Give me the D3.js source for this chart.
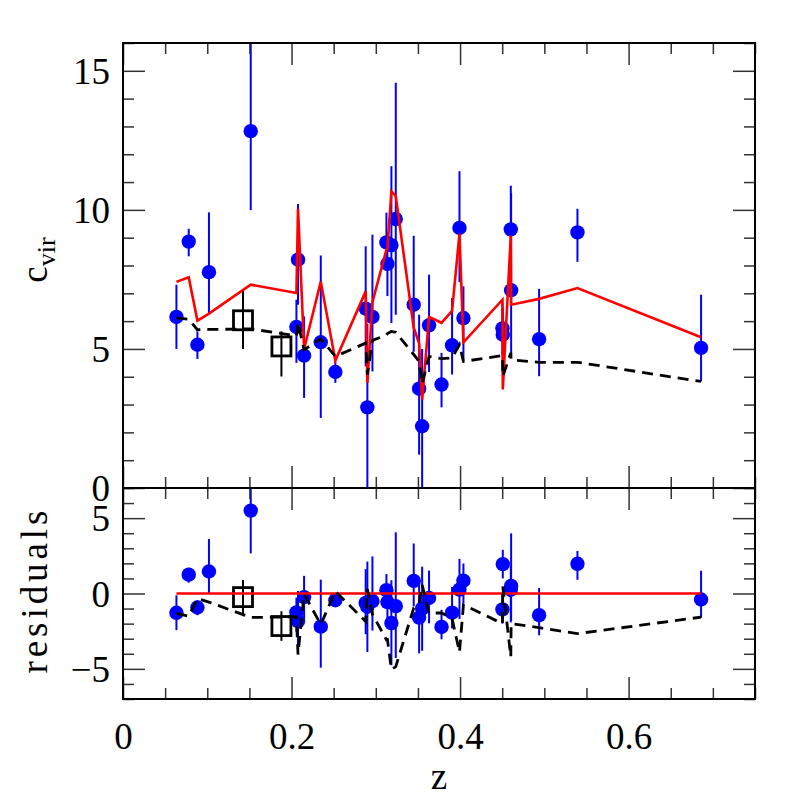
<!DOCTYPE html>
<html><head><meta charset="utf-8">
<script src="https://cdn.jsdelivr.net/npm/d3@7"></script>
<style>body{margin:0;background:#fff} svg{display:block} text{font-family:"Liberation Serif","DejaVu Serif",serif}</style>
</head><body><svg id="c" width="797" height="797"></svg>
<script>
// ---- data ----
const z       = [0.0634,0.078,0.0883,0.102,0.1516,0.2058,0.2077,0.2149,0.2347,0.252,0.288,0.290,0.296,0.3126,0.3138,0.3185,0.3237,0.345,0.3514,0.355,0.3632,0.378,0.3905,0.3993,0.404,0.4503,0.4507,0.4602,0.4606,0.4938,0.5393,0.686];
const cvir    = [6.15,8.86,5.15,7.76,12.83,5.79,8.21,4.76,5.24,4.17,6.45,2.9,6.15,8.83,8.06,8.73,9.67,6.59,3.57,2.22,5.85,3.72,5.13,9.35,6.11,5.74,5.51,9.3,7.11,5.35,9.19,5.04];
const errLo   = [1.15,0.53,0.51,1.47,2.84,1.29,1.62,1.52,2.72,0.39,2.08,3.0,1.96,1.03,1.16,2.8,3.44,1.69,2.37,2.8,1.68,0.82,1.05,1.95,1.51,0.95,0.95,2.17,2.32,1.33,1.06,1.21];
const errHi   = [1.16,0.46,0.48,2.15,4.5,0.98,2.0,1.41,3.12,0.38,2.24,3.0,2.96,1.07,1.14,2.84,4.9,2.48,2.66,2.78,1.82,1.14,1.7,2.04,1.14,0.95,0.95,1.57,3.49,1.81,0.85,1.91];
const residual= [-1.28,1.25,-0.93,1.46,5.5,-1.25,-1.83,-0.24,-2.2,-0.45,-0.62,-0.88,-0.5,0.22,-0.57,-1.96,-0.84,0.84,-1.6,-1.0,-0.3,-2.22,-1.27,0.26,0.85,-1.05,1.95,0.25,0.5,-1.44,1.97,-0.4];
const model   = [7.41,7.58,6.02,6.27,7.31,7.01,10.04,5.0,7.42,4.58,7.07,3.78,6.68,8.57,8.6,10.67,10.5,5.76,5.2,3.18,6.15,5.94,6.37,9.14,5.24,6.77,3.54,9.08,6.59,6.8,7.19,5.42];
const altModel= [6.12,6.07,5.69,5.70,5.72,5.47,5.95,4.97,5.36,4.73,5.21,4.08,5.31,5.50,5.55,5.63,5.60,4.80,4.55,3.75,4.73,4.65,4.68,5.15,4.55,4.76,4.01,4.86,4.61,4.52,4.52,3.83];
const altResid= [-1.32,-1.5,-0.33,-0.57,-1.59,-1.55,-4.05,-0.03,-2.06,0.15,-1.86,0.3,-1.37,-3.07,-3.05,-5.04,-4.85,-0.96,-0.65,0.57,-1.3,-1.29,-1.65,-3.9,-0.75,-2.0,0.47,-4.2,-2.0,-2.27,-2.66,-1.57];
const zeroLine= [0,0];
const zeroZ   = [0.0634,0.686];
const sqZ     = [0.1424,0.188];
const sqC     = [6.03,5.09];
const sqLo    = [1.03,1.08];
const sqHi    = [1.08,0.54];
const sqRes   = [-0.24,-2.16];
const sqResLo = [1.26,0.98];
const sqResHi = [1.14,0.98];
const xTicks  = [0,0.2,0.4,0.6];
const xLabels = ["0","0.2","0.4","0.6"];
const topTicks= [0,5,10,15];
const botTicks= [-5,0,5];

// ---- layout ----
const svg = d3.select("#c");
const L=123,R=755,T=43,M=488,B=699;
const FS=37;
const x  = d3.scaleLinear().domain([0,0.75]).range([L,R]);
const yT = d3.scaleLinear().domain([0,16]).range([M,T]);
const yB = d3.scaleLinear().domain([-7,7]).range([B,M]);

const defs = svg.append("defs");
defs.append("clipPath").attr("id","cpT").append("rect").attr("x",L).attr("y",T).attr("width",R-L).attr("height",M-T);
defs.append("clipPath").attr("id","cpB").append("rect").attr("x",L).attr("y",M).attr("width",R-L).attr("height",B-M);

function drawPanel(clipId, y, vals, lineVals, dashVals, lineZ, sqVals, sLo, sHi) {
  const g = svg.append("g").attr("clip-path","url(#"+clipId+")");
  g.selectAll("line.eb").data(z).join("line").attr("class","eb")
    .attr("x1",(d)=>x(d)).attr("x2",(d)=>x(d))
    .attr("y1",(d,i)=>y(vals[i]-errLo[i])).attr("y2",(d,i)=>y(vals[i]+errHi[i]))
    .attr("stroke","#0000ff").attr("stroke-width",2);
  g.selectAll("circle.pt").data(z).join("circle").attr("class","pt")
    .attr("cx",(d)=>x(d)).attr("cy",(d,i)=>y(vals[i])).attr("r",7.2).attr("fill","#0000ff");
  g.selectAll("line.sq").data(sqZ).join("line").attr("class","sq")
    .attr("x1",(d)=>x(d)).attr("x2",(d)=>x(d))
    .attr("y1",(d,i)=>y(sqVals[i]-sLo[i])).attr("y2",(d,i)=>y(sqVals[i]+sHi[i]))
    .attr("stroke","#000").attr("stroke-width",2);
  g.selectAll("rect.sq").data(sqZ).join("rect").attr("class","sq")
    .attr("x",(d)=>x(d)-9.5).attr("y",(d,i)=>y(sqVals[i])-9.5).attr("width",19).attr("height",19)
    .attr("fill","none").attr("stroke","#000").attr("stroke-width",2.8);
  const ln = d3.line().x((d)=>x(d[0])).y((d)=>y(d[1]));
  g.append("path").attr("d",ln(lineZ.map((d,i)=>[d,lineVals[i]])))
    .attr("fill","none").attr("stroke","#ff0000").attr("stroke-width",2.6);
  g.append("path").attr("d",ln(z.map((d,i)=>[d,dashVals[i]])))
    .attr("fill","none").attr("stroke","#000").attr("stroke-width",2.8).attr("stroke-dasharray","11,7");
}
drawPanel("cpT", yT, cvir, model, altModel, z, sqC, sqLo, sqHi);
drawPanel("cpB", yB, residual, zeroLine, altResid, zeroZ, sqRes, sqResLo, sqResHi);

// ---- ticks ----
const xMinor = d3.range(0,16).filter(i=>i%4!==0).map(i=>i*0.05);
const tMinor = d3.range(0,17).filter(i=>i%5!==0);
const bMinor = d3.range(-7,8).filter(i=>i%5!==0);
function tk(axis, tx, ty, vals, size){
  const g = svg.append("g").attr("transform",`translate(${tx},${ty})`)
    .call(axis.tickValues(vals).tickSize(size).tickFormat(""));
  g.select(".domain").remove();
  g.selectAll("line").attr("stroke","#333").attr("stroke-width",1.5);
}
[[d3.axisTop,T],[d3.axisBottom,M],[d3.axisTop,M],[d3.axisBottom,B]].forEach(([a,yy])=>{
  tk(a(x),0,yy,xTicks,-22); tk(a(x),0,yy,xMinor,-11);
});
tk(d3.axisLeft(yT),L,0,topTicks,-22); tk(d3.axisLeft(yT),L,0,tMinor,-11);
tk(d3.axisRight(yT),R,0,topTicks,-22); tk(d3.axisRight(yT),R,0,tMinor,-11);
tk(d3.axisLeft(yB),L,0,botTicks,-22); tk(d3.axisLeft(yB),L,0,bMinor,-11);
tk(d3.axisRight(yB),R,0,botTicks,-22); tk(d3.axisRight(yB),R,0,bMinor,-11);

svg.append("rect").attr("x",L).attr("y",T).attr("width",R-L).attr("height",B-T)
  .attr("fill","none").attr("stroke","#000").attr("stroke-width",2);
svg.append("line").attr("x1",L).attr("x2",R).attr("y1",M).attr("y2",M).attr("stroke","#000").attr("stroke-width",2);

// ---- labels ----
function lab(axis){ return axis.tickSize(0).tickPadding(13); }
const gl1 = svg.append("g").attr("transform",`translate(${L},0)`).call(lab(d3.axisLeft(yT)).tickValues(topTicks));
const gl2 = svg.append("g").attr("transform",`translate(${L},0)`).call(lab(d3.axisLeft(yB)).tickValues(botTicks));
const gl3 = svg.append("g").attr("transform",`translate(0,${B})`).call(lab(d3.axisBottom(x)).tickValues(xTicks).tickFormat((d,i)=>xLabels[i]));
[gl1,gl2,gl3].forEach(g=>{ g.select(".domain").remove();
  g.selectAll("text").attr("font-family","Liberation Serif, serif").attr("font-size",FS).attr("fill","#000"); });
gl1.selectAll("text").attr("dy","0.34em");
gl2.selectAll("text").attr("dy","0.34em");
gl3.selectAll("text").attr("dy","0").attr("y",50);

svg.append("text").attr("x",(L+R)/2).attr("y",789).attr("text-anchor","middle")
  .attr("font-size",FS).text("z");
const cl = svg.append("text").attr("transform","translate(47,260) rotate(-90)").attr("text-anchor","middle").attr("font-size",FS);
cl.append("tspan").text("c");
cl.append("tspan").attr("font-size",26).attr("dy",8).text("vir");
svg.append("text").attr("transform","translate(47,592) rotate(-90)").attr("text-anchor","middle")
  .attr("font-size",FS).attr("textLength",163).attr("lengthAdjust","spacing").text("residuals");
</script></body></html>
